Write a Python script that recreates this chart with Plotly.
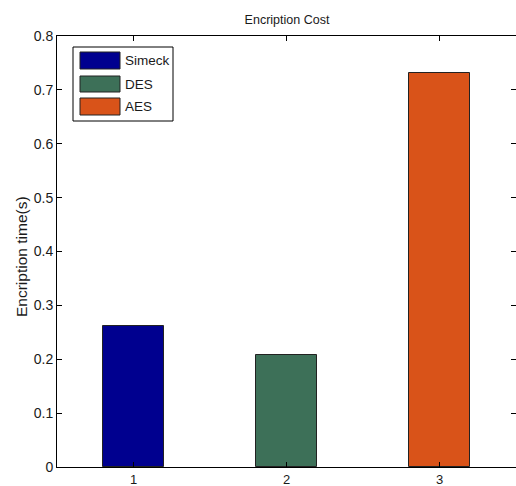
import plotly.graph_objects as go

categories = [1, 2, 3]
series_names = ["Simeck", "DES", "AES"]
values = [0.261, 0.207, 0.732]
colors = ["#00008F", "#3D7058", "#D95319"]
y_ticks = [0, 0.1, 0.2, 0.3, 0.4, 0.5, 0.6, 0.7, 0.8]
y_tick_labels = ["0", "0.1", "0.2", "0.3", "0.4", "0.5", "0.6", "0.7", "0.8"]
x_tick_labels = ["1", "2", "3"]

W, H = 516, 486
L, R, T, B = 57, 0, 36, 19
pw, ph = W - L - R, H - T - B

FONT = "Liberation Sans, Arial, sans-serif"
TXT = "#1a1a1a"

fig = go.Figure()
for c, n, v, col in zip(categories, series_names, values, colors):
    fig.add_trace(go.Bar(
        x=[c], y=[v], name=n, width=0.4,
        marker=dict(color=col, line=dict(color="#222222", width=1)),
        showlegend=False,
    ))

def px_x(p):
    return (p - L) / pw

def px_y(p):
    return (H - B - p) / ph

shapes = [dict(type="rect", xref="paper", yref="paper",
               x0=px_x(73), x1=px_x(173), y0=px_y(121), y1=px_y(47),
               line=dict(color="#000000", width=1), fillcolor="white")]
annotations = []
rows = [(52, 69), (76, 92), (98, 115)]
for (top, bot), n, col in zip(rows, series_names, colors):
    shapes.append(dict(type="rect", xref="paper", yref="paper",
                       x0=px_x(80), x1=px_x(120), y0=px_y(bot), y1=px_y(top),
                       line=dict(color="#222222", width=1), fillcolor=col))
    annotations.append(dict(xref="paper", yref="paper", x=px_x(123), y=px_y((top + bot) / 2),
                            text=n, showarrow=False, xanchor="left", yanchor="middle",
                            font=dict(family=FONT, size=13.5, color=TXT)))

# y-axis title
annotations.append(dict(xref="paper", yref="paper", x=px_x(21), y=px_y(257),
                        text="Encription time(s)", textangle=-90, showarrow=False,
                        xanchor="center", yanchor="middle",
                        font=dict(family=FONT, size=15.5, color=TXT)))

fig.update_layout(
    width=W, height=H,
    margin=dict(l=L, r=R, t=T, b=B, autoexpand=False),
    paper_bgcolor="white", plot_bgcolor="white",
    title=dict(text="Encription Cost", x=287 / W, xanchor="center",
               y=1 - 20 / H, yanchor="middle",
               font=dict(family=FONT, size=12.5, color=TXT)),
    shapes=shapes,
    annotations=annotations,
    bargap=0,
)
fig.update_xaxes(
    range=[0.5, 3.5], tickvals=categories, ticktext=x_tick_labels,
    showgrid=False, zeroline=False, showline=True, linecolor="black", linewidth=1,
    mirror="ticks", ticks="inside", ticklen=5, tickcolor="black",
    tickfont=dict(family=FONT, size=13, color=TXT), automargin=False,
)
fig.update_yaxes(
    range=[0, 0.8], tickvals=y_ticks, ticktext=y_tick_labels,
    showgrid=False, zeroline=False, showline=True, linecolor="black", linewidth=1,
    mirror="ticks", ticks="inside", ticklen=5, tickcolor="black",
    tickfont=dict(family=FONT, size=14, color=TXT), automargin=False,
)

fig.write_html("out.html", config={"displayModeBar": False},
               post_script="document.body.style.margin='0px';document.body.style.overflow='hidden';")
